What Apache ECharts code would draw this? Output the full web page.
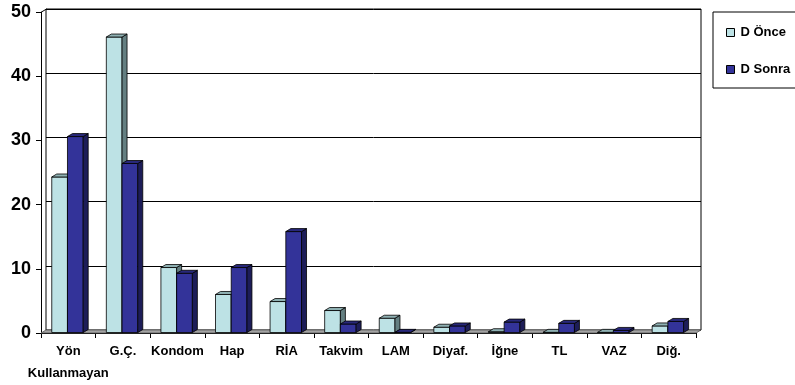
<!DOCTYPE html>
<html>
<head>
<meta charset="utf-8">
<title>D Önce / D Sonra</title>
<script src="https://cdn.jsdelivr.net/npm/echarts@6/dist/echarts.min.js"></script>
<style>
  html, body { margin: 0; padding: 0; background: #fff; }
  #chart { width: 795px; height: 385px; }
</style>
</head>
<body>
<div id="chart"></div>
<script>
// Method categories
const categories = ['Yön\nKullanmayan', 'G.Ç.', 'Kondom', 'Hap', 'RİA', 'Takvim', 'LAM', 'Diyaf.', 'İğne', 'TL', 'VAZ', 'Diğ.'];
// Series values (%)
const onceValues  = [24.3, 46.1, 10.2, 6.0, 4.9, 3.5, 2.3, 0.9, 0.2, 0.1, 0.1, 1.1];
const sonraValues = [30.6, 26.4, 9.3, 10.2, 15.8, 1.4, 0.1, 1.1, 1.7, 1.5, 0.4, 1.8];
// Value axis ticks
const yTicks = [0, 10, 20, 30, 40, 50];

const seriesNames = ['D Önce', 'D Sonra'];

// depth offset of the pseudo-3D columns and the back wall
const DX = 5, DY = 3;

const palettes = [
  { front: '#BDE2E5', side: '#647F81', top: '#8FB1B3' },
  { front: '#333399', side: '#1D1D58', top: '#28287A' }
];

function columnRenderer(offsetFrac, palette) {
  return function (params, api) {
    const cat = api.value(0);
    const v = api.value(1);
    const base = api.coord([cat, 0]);
    const top = api.coord([cat, v]);
    const band = api.size([1, 0])[0];
    const w = band * 0.288;
    const x0 = base[0] + band * offsetFrac;
    const x1 = x0 + w;
    const yT = top[1];
    const yB = base[1] - 0.5;
    const st = { stroke: '#000', lineWidth: 0.8 };
    return {
      type: 'group',
      children: [
        { type: 'rect', shape: { x: x0, y: yT, width: w, height: Math.max(yB - yT, 0) },
          style: Object.assign({ fill: palette.front }, st) },
        { type: 'polygon', shape: { points: [[x1, yT], [x1 + DX, yT - DY], [x1 + DX, yB - DY], [x1, yB]] },
          style: Object.assign({ fill: palette.side }, st) },
        { type: 'polygon', shape: { points: [[x0, yT], [x0 + DX, yT - DY], [x1 + DX, yT - DY], [x1, yT]] },
          style: Object.assign({ fill: palette.top }, st) }
      ]
    };
  };
}

// floor slab and the left edge joining the front axis to the back wall
function frameRenderer(params) {
  const cs = params.coordSys;
  const xL = cs.x, xR = cs.x + cs.width, yTop = cs.y, yBot = cs.y + cs.height;
  return {
    type: 'group',
    children: [
      { type: 'polygon',
        shape: { points: [[xL, yBot], [xR, yBot], [xR + DX, yBot - DY], [xL + DX, yBot - DY]] },
        style: { fill: '#A3A3A3', stroke: '#555', lineWidth: 0.8 } },
      { type: 'line', shape: { x1: xL + 0.5, y1: yTop, x2: xL + DX + 0.5, y2: yTop - DY },
        style: { stroke: '#000', lineWidth: 1 } }
    ]
  };
}

const chart = echarts.init(document.getElementById('chart'), null, { renderer: 'canvas' });

const font = 'Arial, "Liberation Sans", Helvetica, sans-serif';

chart.setOption({
  animation: false,
  backgroundColor: '#fff',
  textStyle: { fontFamily: font },
  grid: [
    { left: 41, right: 99, top: 12, bottom: 52 },
    { left: 46, right: 94, top: 9, bottom: 55, show: true, borderColor: '#000', borderWidth: 1, backgroundColor: '#fff', z: 0 }
  ],
  legend: {
    data: seriesNames.map(n => ({ name: n, icon: 'rect' })),
    orient: 'vertical',
    left: 713,
    top: 12,
    itemWidth: 8,
    itemHeight: 8,
    itemGap: 24,
    padding: [14, 20, 12, 13],
    borderColor: '#000',
    borderWidth: 1,
    itemStyle: { borderColor: '#000', borderWidth: 1 },
    textStyle: { fontFamily: font, fontWeight: 'bold', fontSize: 13, color: '#000', padding: [0, 0, 0, 1] },
    selectedMode: false
  },
  xAxis: [
    {
      type: 'category', gridIndex: 0, data: categories, boundaryGap: true,
      axisLine: { show: true, lineStyle: { color: '#000', width: 1 } },
      axisTick: { show: true, length: 5, interval: 0, lineStyle: { color: '#000' } },
      axisLabel: { interval: 0, margin: 7, fontFamily: font, fontWeight: 'bold', fontSize: 13, color: '#000', lineHeight: 22 },
      splitLine: { show: false }
    },
    {
      type: 'category', gridIndex: 1, data: categories, show: false
    }
  ],
  yAxis: [
    {
      type: 'value', gridIndex: 0, min: yTicks[0], max: yTicks[yTicks.length - 1], interval: 10,
      axisLine: { show: true, lineStyle: { color: '#000', width: 1 } },
      axisTick: { show: true, length: 5, lineStyle: { color: '#000' } },
      axisLabel: { margin: 10, fontFamily: font, fontWeight: 'bold', fontSize: 18, color: '#000' },
      splitLine: { show: false }
    },
    {
      type: 'value', gridIndex: 1, min: yTicks[0], max: yTicks[yTicks.length - 1], interval: 10,
      axisLine: { show: false }, axisTick: { show: false }, axisLabel: { show: false },
      splitLine: { show: true, lineStyle: { color: '#000', width: 1 } }
    }
  ],
  series: [
    {
      type: 'custom', name: 'frame', xAxisIndex: 0, yAxisIndex: 0,
      data: [[0, 0]], renderItem: frameRenderer, silent: true, z: 1
    },
    {
      type: 'custom', name: seriesNames[0], xAxisIndex: 0, yAxisIndex: 0,
      itemStyle: { color: palettes[0].front },
      encode: { x: 0, y: 1 },
      data: onceValues.map((v, i) => [i, v]),
      renderItem: columnRenderer(-0.303, palettes[0]), z: 3
    },
    {
      type: 'custom', name: seriesNames[1], xAxisIndex: 0, yAxisIndex: 0,
      itemStyle: { color: palettes[1].front },
      encode: { x: 0, y: 1 },
      data: sonraValues.map((v, i) => [i, v]),
      renderItem: columnRenderer(-0.015, palettes[1]), z: 4
    }
  ]
});
</script>
</body>
</html>
